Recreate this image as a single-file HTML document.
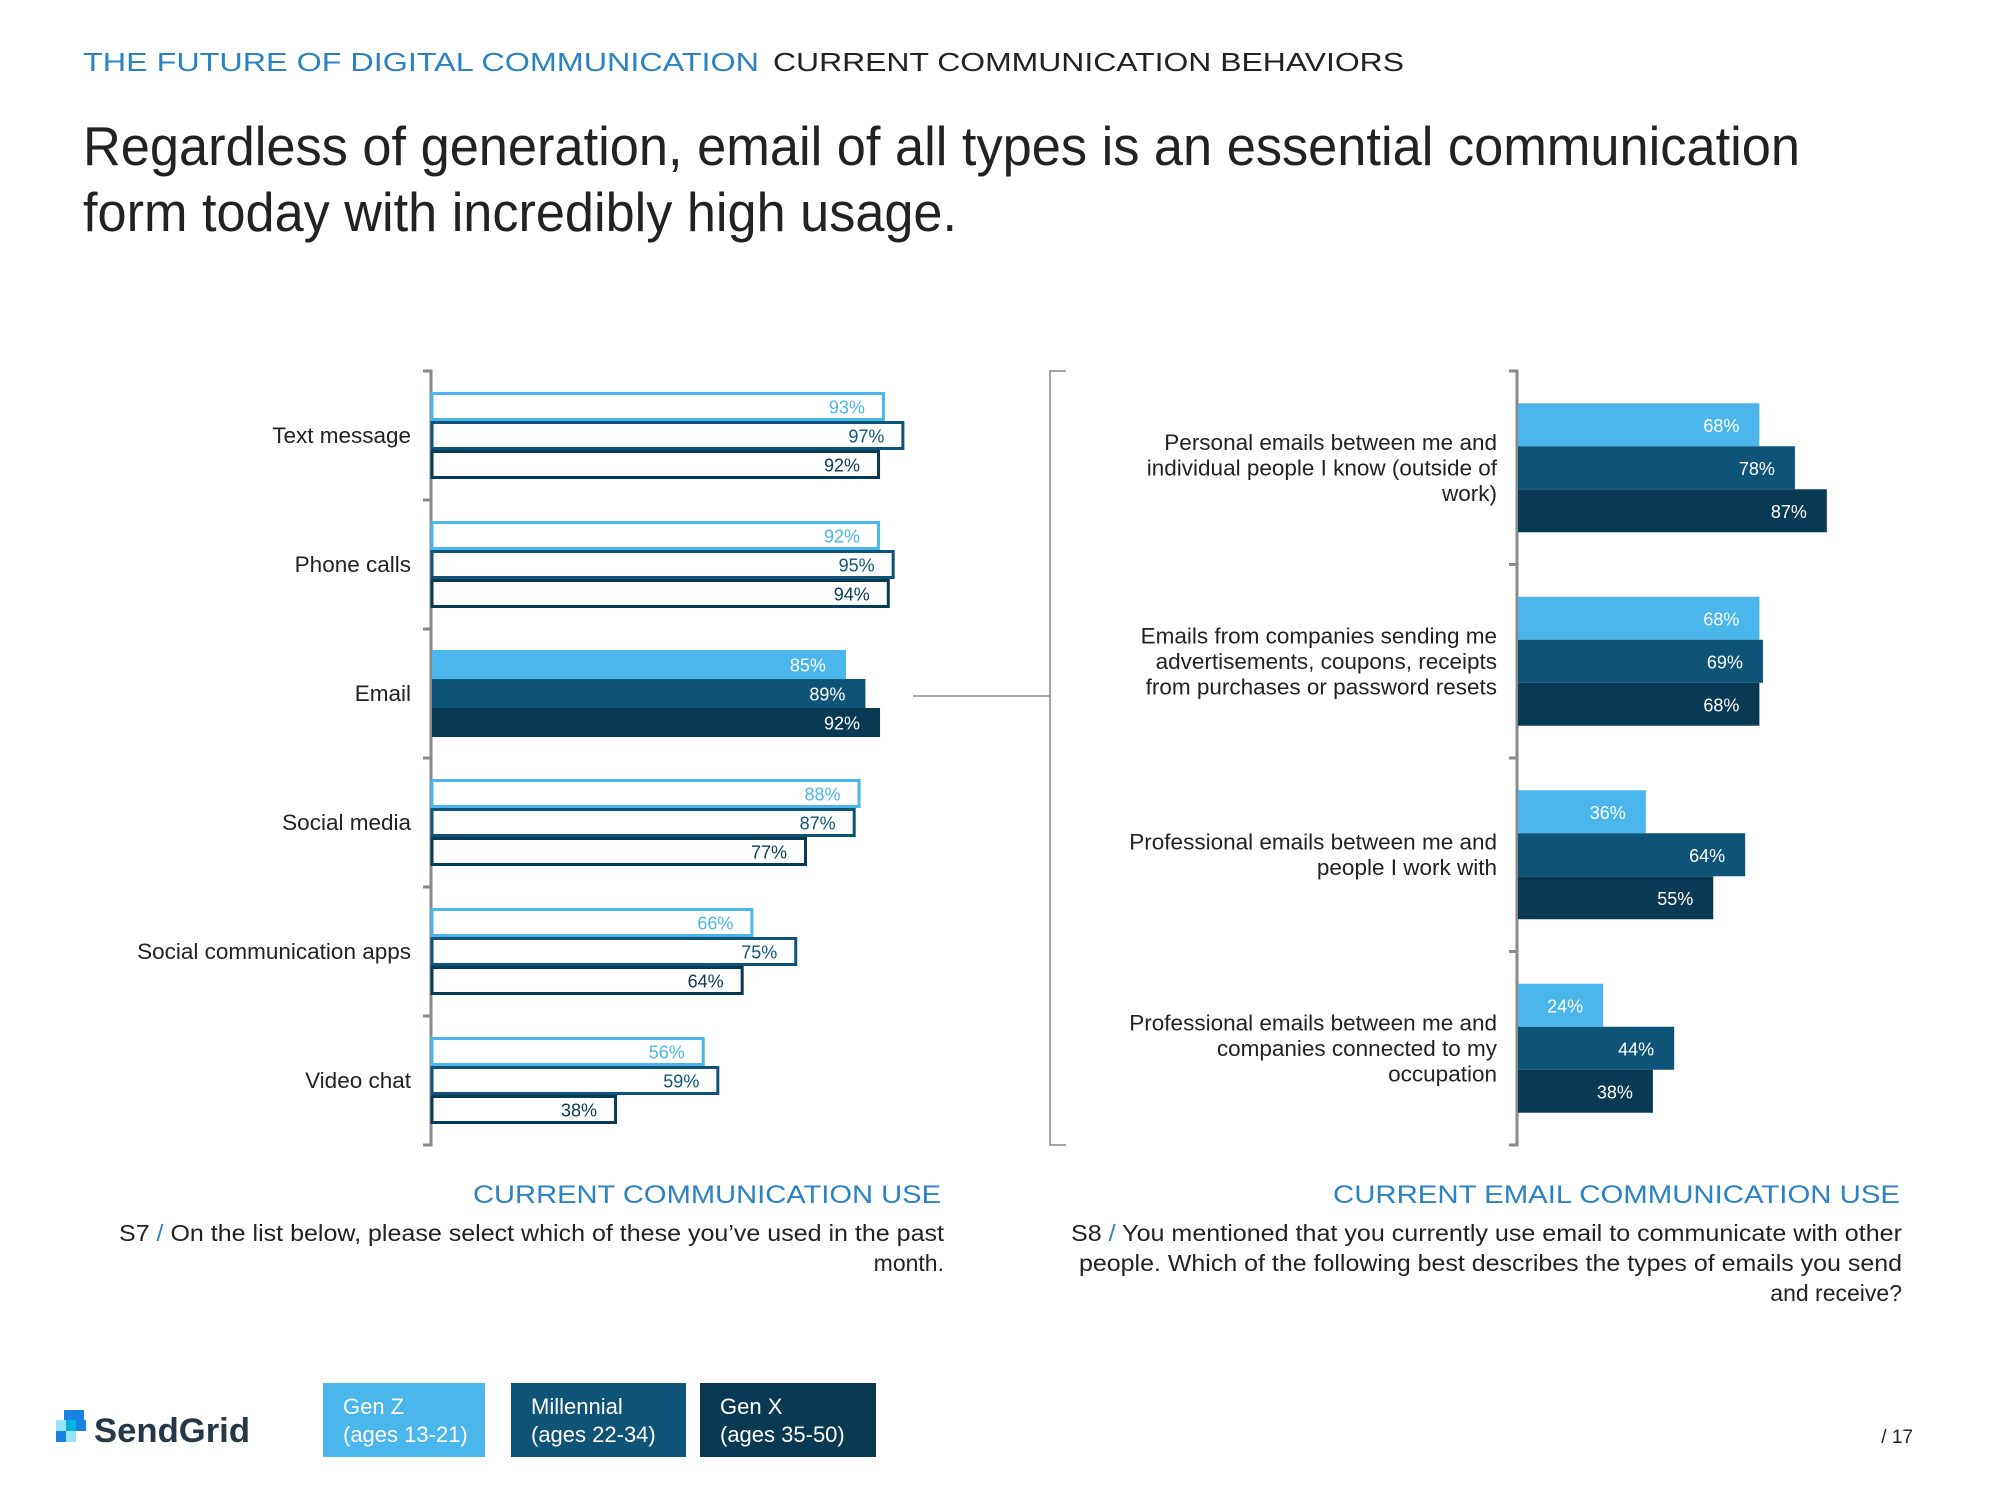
<!DOCTYPE html>
<html><head><meta charset="utf-8"><style>
html,body{margin:0;padding:0;background:#fff;}
svg{display:block;font-family:"Liberation Sans",sans-serif;}
</style></head><body>
<svg id="s" width="2000" height="1500" viewBox="0 0 2000 1500" xmlns="http://www.w3.org/2000/svg">
<g>
<text x="83" y="71" font-size="26" fill="#2b82c4" textLength="676" lengthAdjust="spacingAndGlyphs">THE FUTURE OF DIGITAL COMMUNICATION</text>
<text x="773" y="71" font-size="26" fill="#222" textLength="631" lengthAdjust="spacingAndGlyphs">CURRENT COMMUNICATION BEHAVIORS</text>
</g>
<text x="83" y="165" font-size="55" fill="#222" textLength="1717" lengthAdjust="spacingAndGlyphs">Regardless of generation, email of all types is an essential communication</text>
<text x="83" y="231" font-size="55" fill="#222" textLength="874" lengthAdjust="spacingAndGlyphs">form today with incredibly high usage.</text>
<g id="left"></g>
<g id="right"></g>
<g>
<line x1="913" y1="696" x2="1050" y2="696" stroke="#888" stroke-width="1.5"/>
<path d="M1066 371 H1050 V1145 H1066" fill="none" stroke="#888" stroke-width="1.5"/>
</g>
<text x="941" y="1203" font-size="25" fill="#2b82c4" text-anchor="end" textLength="468" lengthAdjust="spacingAndGlyphs">CURRENT COMMUNICATION USE</text>
<text x="944" y="1241" font-size="23" fill="#222" text-anchor="end" textLength="825" lengthAdjust="spacingAndGlyphs">S7 <tspan fill="#2b82c4">/</tspan> On the list below, please select which of these you’ve used in the past</text>
<text x="944" y="1271" font-size="23" fill="#222" text-anchor="end">month.</text>
<text x="1900" y="1203" font-size="25" fill="#2b82c4" text-anchor="end" textLength="567" lengthAdjust="spacingAndGlyphs">CURRENT EMAIL COMMUNICATION USE</text>
<text x="1902" y="1241" font-size="23" fill="#222" text-anchor="end" textLength="831" lengthAdjust="spacingAndGlyphs">S8 <tspan fill="#2b82c4">/</tspan> You mentioned that you currently use email to communicate with other</text>
<text x="1902" y="1271" font-size="23" fill="#222" text-anchor="end" textLength="823" lengthAdjust="spacingAndGlyphs">people. Which of the following best describes the types of emails you send</text>
<text x="1902" y="1301" font-size="23" fill="#222" text-anchor="end">and receive?</text>
<g>
<rect x="64" y="1410" width="10" height="10" fill="#1a82e2"/>
<rect x="74" y="1410" width="10" height="11" fill="#1a82e2"/>
<rect x="56" y="1420" width="10" height="11" fill="#99e1f4"/>
<rect x="66" y="1420" width="10" height="11" fill="#00b3e3"/>
<rect x="76" y="1420" width="10" height="11" fill="#1a82e2"/>
<rect x="56" y="1431" width="10" height="11" fill="#1a82e2"/>
<rect x="66" y="1431" width="10" height="11" fill="#99e1f4"/>
<text x="94" y="1442" font-size="34" font-weight="bold" fill="#263746" textLength="156" lengthAdjust="spacingAndGlyphs">SendGrid</text>
</g>
<g>
<g><rect x="323" y="1383" width="162" height="74" fill="#4bb6ec"/><text x="343" y="1414" font-size="22" fill="#fff">Gen Z</text><text x="343" y="1442" font-size="22" fill="#fff">(ages 13-21)</text></g>
<g><rect x="511" y="1383" width="175" height="74" fill="#0e5479"/><text x="531" y="1414" font-size="22" fill="#fff">Millennial</text><text x="531" y="1442" font-size="22" fill="#fff">(ages 22-34)</text></g>
<g><rect x="700" y="1383" width="176" height="74" fill="#093a53"/><text x="720" y="1414" font-size="22" fill="#fff">Gen X</text><text x="720" y="1442" font-size="22" fill="#fff">(ages 35-50)</text></g>
</g>
<text x="1913" y="1443" font-size="19" fill="#222" text-anchor="end">/  17</text>
</svg>
<script>
const leftCategories = ["Text message","Phone calls","Email","Social media","Social communication apps","Video chat"];
const leftGenZ = [93,92,85,88,66,56];
const leftMillennial = [97,95,89,87,75,59];
const leftGenX = [92,94,92,77,64,38];
const rightCategories = [["Personal emails between me and","individual people I know (outside of","work)"],["Emails from companies sending me","advertisements, coupons, receipts","from purchases or password resets"],["Professional emails between me and","people I work with"],["Professional emails between me and","companies connected to my","occupation"]];
const rightGenZ = [68,68,36,24];
const rightMillennial = [78,69,64,44];
const rightGenX = [87,68,55,38];
const colors = ["#4bb6ec","#0e5479","#093a53"];
const NS = "http://www.w3.org/2000/svg";
function mk(parent, tag, attrs){ const e=document.createElementNS(NS,tag); for(const k in attrs) e.setAttribute(k,attrs[k]); parent.appendChild(e); return e; }

function drawChart(g, cats, series, x0, pxPer, top, bottom, barH, filledFn, labelX){
  const n = cats.length, band=(bottom-top)/n;
  const xS = v => x0 + v*pxPer;
  const axis = mk(g,'path',{d:`M${x0-8} ${top} H${x0} V${bottom} H${x0-8}`,fill:'none',stroke:'#8a8a8a','stroke-width':3});
  
  
  for(let i=1;i<n;i++){ const t=mk(g,'line',{x1:x0-8,x2:x0,y1:top+band*i,y2:top+band*i,stroke:'#8a8a8a','stroke-width':3});
      }
  cats.forEach((c,i)=>{
    const cy = top+band*(i+0.5);
    const lines = Array.isArray(c)?c:[c];
    const lh=25.5;
    lines.forEach((ln,j)=>{
      const t=mk(g,'text',{x:labelX,y:cy+(j-(lines.length-1)/2)*lh+7.5,'font-size':22.5,fill:'#222','text-anchor':'end'});
      t.textContent=ln;
      
      
    });
    series.forEach((s,k)=>{
      const y = cy - 1.5*barH + k*barH;
      const w = xS(s[i])-x0;
      const filled = filledFn(i);
      let r;
      if(filled) r=mk(g,'rect',{x:x0+1,y:y,width:w,height:barH,fill:colors[k]});
      else r=mk(g,'rect',{x:x0+1,y:y+1.5,width:w-1.5,height:barH-3,fill:'#fff',stroke:colors[k],'stroke-width':3});
      
      
      const t=mk(g,'text',{x:xS(s[i])-19,y:y+barH/2+7,'font-size':18,'text-anchor':'end',fill:filled?'#fff':colors[k]});
      t.textContent=s[i]+'%';
      
      
    });
  });
}
drawChart(document.getElementById('left'), leftCategories, [leftGenZ,leftMillennial,leftGenX], 431, 4.87, 371, 1145, 29, i=>i===2, 411);
drawChart(document.getElementById('right'), rightCategories, [rightGenZ,rightMillennial,rightGenX], 1517, 3.55, 371, 1145, 43, i=>true, 1497);
</script>
</body></html>
